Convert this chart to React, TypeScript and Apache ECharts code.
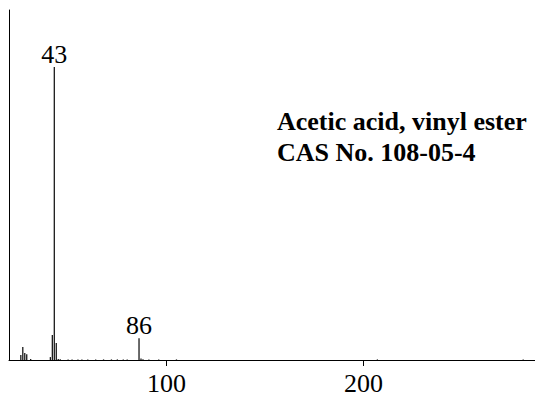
import React, { useEffect, useRef } from "react";
import * as echarts from "echarts";

// Mass spectrum of vinyl acetate: m/z and relative abundance (%)
const mzValues = [
  26, 27, 28, 29, 31, 41, 42, 43, 44, 45, 46, 50, 52, 55, 57, 60, 64, 68, 72, 75,
  78, 80, 86, 87, 88, 91, 96, 105, 207, 281,
];
const abundances = [
  1.7, 4.4, 2.4, 2.0, 0.3, 1.0, 8.5, 100, 5.8, 0.3, 0.25, 0.2, 0.2, 0.2, 0.2, 0.2,
  0.2, 0.2, 0.2, 0.2, 0.2, 0.2, 7.4, 0.5, 0.25, 0.2, 0.2, 0.2, 0.2, 0.2,
];
const labelledPeaks = [43, 86];
const xTicks = [100, 200];
const titleLines = ["Acetic acid, vinyl ester", "CAS No. 108-05-4"];

const SERIF = "'Liberation Serif', 'Times New Roman', serif";

export default function App() {
  const ref = useRef<HTMLDivElement>(null);

  useEffect(() => {
    if (!ref.current) return;
    const chart = echarts.init(ref.current, undefined, { renderer: "svg" });

    const data = mzValues.map((mz, i) => {
      const item: any = { value: [mz, abundances[i]] };
      if (labelledPeaks.includes(mz)) {
        item.label = {
          show: true,
          position: "top",
          distance: 0,
          formatter: String(mz),
          color: "#000",
          fontFamily: SERIF,
          fontSize: 26,
        };
      }
      return item;
    });

    chart.setOption({
      animation: false,
      backgroundColor: "#fff",
      grid: { left: 9, right: 0, top: 10, bottom: 39, containLabel: false },
      xAxis: {
        type: "value",
        min: 20,
        max: 287,
        axisLine: { show: true, onZero: false, lineStyle: { color: "#000", width: 1 } },
        axisTick: { show: true, length: 6, customValues: xTicks, lineStyle: { color: "#000" } },
        axisLabel: {
          show: true,
          customValues: xTicks,
          margin: 10,
          color: "#000",
          fontFamily: SERIF,
          fontSize: 26,
        },
        splitLine: { show: false },
      },
      yAxis: {
        type: "value",
        min: 0,
        max: 119.5,
        axisLine: { show: true, lineStyle: { color: "#000", width: 1 } },
        axisTick: { show: false },
        axisLabel: { show: false },
        splitLine: { show: false },
      },
      series: [
        {
          type: "bar",
          data,
          barWidth: 1.3,
          itemStyle: { color: "#1a1a1a" },
          silent: true,
        },
      ],
      graphic: [
        {
          type: "text",
          left: 277,
          top: 106,
          style: {
            text: titleLines.join("\n"),
            font: `bold 26px ${SERIF}`,
            lineHeight: 31,
            fill: "#000",
          },
        },
      ],
    });

    return () => chart.dispose();
  }, []);

  return (
    <div
      ref={ref}
      style={{ position: "fixed", left: 0, top: 0, width: 535, height: 399 }}
    />
  );
}
